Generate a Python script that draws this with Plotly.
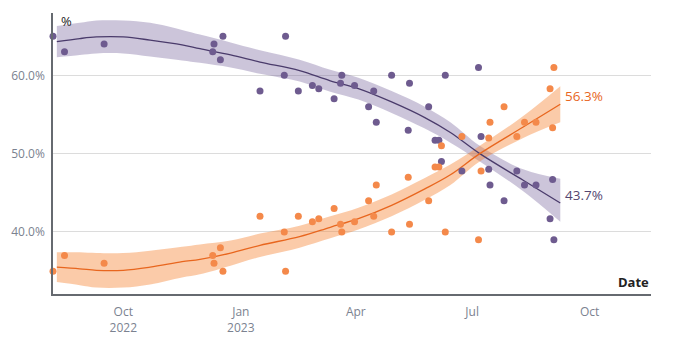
import plotly.graph_objects as go

# Poll results (share of respondents, %)
poll_dates = [
    "2022-08-07", "2022-08-16", "2022-09-16", "2022-12-10", "2022-12-11",
    "2022-12-16", "2022-12-18", "2023-01-16", "2023-02-04", "2023-02-05",
    "2023-02-15", "2023-02-26", "2023-03-03", "2023-03-15", "2023-03-20",
    "2023-03-21", "2023-03-31", "2023-04-11", "2023-04-15", "2023-04-17",
    "2023-04-29", "2023-05-12", "2023-05-13", "2023-05-28", "2023-06-02",
    "2023-06-05", "2023-06-07", "2023-06-10", "2023-06-23", "2023-07-06",
    "2023-07-08", "2023-07-14", "2023-07-15", "2023-07-26", "2023-08-05",
    "2023-08-11", "2023-08-20", "2023-08-31", "2023-09-02", "2023-09-03",
]
purple_polls = [
    65, 63, 64, 63, 64, 62, 65, 58, 60, 65,
    58, 58.7, 58.3, 57, 59, 60, 58.7, 56, 58, 54,
    60, 53, 59, 56, 51.7, 51.7, 49, 60, 47.8, 61,
    52.2, 48, 46, 44, 47.8, 46, 46, 41.7, 46.7, 39,
]
orange_polls = [
    35, 37, 36, 37, 36, 38, 35, 42, 40, 35,
    42, 41.3, 41.7, 43, 41, 40, 41.3, 44, 42, 46,
    40, 47, 41, 44, 48.3, 48.3, 51, 40, 52.2, 39,
    47.8, 52, 54, 56, 52.2, 54, 54, 58.3, 53.3, 61,
]

# Smoothed trend and its confidence band
trend_dates = [
    "2022-08-10", "2022-08-28", "2022-09-10", "2022-10-01", "2022-10-22",
    "2022-11-16", "2022-11-30", "2022-12-24", "2023-01-16", "2023-02-16",
    "2023-03-12", "2023-04-03", "2023-04-29", "2023-05-25", "2023-06-14",
    "2023-07-07", "2023-08-10", "2023-09-08",
]
purple_trend = [64.3, 64.7, 64.9, 64.9, 64.5, 63.9, 63.4, 62.6, 61.7, 60.6,
                59.3, 58.3, 56.6, 54.6, 52.7, 50.0, 46.6, 43.7]
purple_upper = [66.3, 66.7, 67.0, 67.0, 66.7, 65.8, 65.2, 64.2, 63.2, 62.0,
                60.7, 59.7, 58.0, 56.0, 54.0, 51.0, 48.0, 46.8]
purple_lower = [62.3, 62.6, 62.8, 62.8, 62.4, 61.9, 61.6, 61.0, 60.2, 59.2,
                57.9, 56.9, 55.2, 53.2, 51.4, 49.0, 45.2, 41.3]
orange_trend = [35.5, 35.3, 35.1, 35.1, 35.5, 36.2, 36.5, 37.3, 38.3, 39.4,
                40.6, 41.7, 43.4, 45.5, 47.3, 50.0, 53.4, 56.3]
orange_upper = [37.4, 37.4, 37.3, 37.3, 37.6, 38.1, 38.4, 38.9, 39.8, 40.8,
                42.0, 43.1, 44.8, 46.9, 48.6, 51.0, 54.8, 58.6]
orange_lower = [33.6, 33.2, 32.9, 32.9, 33.3, 34.2, 34.6, 35.7, 36.8, 38.0,
                39.2, 40.3, 42.0, 44.1, 46.0, 49.0, 52.0, 54.0]

tick_dates = ["2022-10-01", "2023-01-01", "2023-04-01", "2023-07-01", "2023-10-01"]
tick_text = ["Oct<br>2022", "Jan<br>2023", "Apr", "Jul", "Oct"]
y_ticks = [40, 50, 60]
y_text = ["40.0%", "50.0%", "60.0%"]

PURPLE_BAND = "rgba(110,90,150,0.35)"
ORANGE_BAND = "rgba(245,130,50,0.42)"
PURPLE_LINE = "#4a3b6b"
ORANGE_LINE = "#e8661e"
PURPLE_DOT = "#6e5b8f"
ORANGE_DOT = "#f4894a"

fig = go.Figure()

# confidence bands: lower edge, then upper edge filled down to it
for upper, lower, color in [(purple_upper, purple_lower, PURPLE_BAND),
                            (orange_upper, orange_lower, ORANGE_BAND)]:
    fig.add_trace(go.Scatter(
        x=trend_dates, y=lower, mode="lines",
        line=dict(width=0, shape="spline"),
        hoverinfo="skip", showlegend=False,
    ))
    fig.add_trace(go.Scatter(
        x=trend_dates, y=upper, mode="lines",
        line=dict(width=0, shape="spline"),
        fill="tonexty", fillcolor=color,
        hoverinfo="skip", showlegend=False,
    ))

# trend lines
fig.add_trace(go.Scatter(x=trend_dates, y=purple_trend, mode="lines",
                         line=dict(color=PURPLE_LINE, width=1.3, shape="spline"),
                         showlegend=False))
fig.add_trace(go.Scatter(x=trend_dates, y=orange_trend, mode="lines",
                         line=dict(color=ORANGE_LINE, width=1.3, shape="spline"),
                         showlegend=False))

# individual polls
fig.add_trace(go.Scatter(x=poll_dates, y=purple_polls, mode="markers",
                         marker=dict(color=PURPLE_DOT, size=7),
                         cliponaxis=False, showlegend=False))
fig.add_trace(go.Scatter(x=poll_dates, y=orange_polls, mode="markers",
                         marker=dict(color=ORANGE_DOT, size=7),
                         cliponaxis=False, showlegend=False))

# end-of-line value labels
fig.add_annotation(x=trend_dates[-1], y=orange_trend[-1], text=f"{orange_trend[-1]:.1f}%",
                   showarrow=False, xanchor="left", yanchor="middle", xshift=3, yshift=8,
                   font=dict(family="Open Sans", size=13.5, color=ORANGE_LINE))
fig.add_annotation(x=trend_dates[-1], y=purple_trend[-1], text=f"{purple_trend[-1]:.1f}%",
                   showarrow=False, xanchor="left", yanchor="middle", xshift=3, yshift=8,
                   font=dict(family="Open Sans", size=13.5, color="#54466f"))

# axis titles
fig.add_annotation(xref="paper", yref="paper", x=0.01, y=0.97, text="%",
                   showarrow=False, xanchor="left", yanchor="middle",
                   font=dict(family="Open Sans", size=13, color="#222222"))
fig.add_annotation(xref="paper", yref="paper", x=1.0, y=0.044, text="<b>Date</b>",
                   showarrow=False, xanchor="right", yanchor="middle",
                   font=dict(family="Open Sans", size=13, color="#222222"))

fig.update_layout(
    width=673, height=338,
    margin=dict(l=53, r=22, t=13, b=44),
    paper_bgcolor="white", plot_bgcolor="white",
    font=dict(family="Open Sans", size=12, color="#7b8290"),
    xaxis=dict(
        type="date", range=["2022-08-07", "2023-11-18"],
        tickvals=tick_dates, ticktext=tick_text,
        showgrid=False, zeroline=False, automargin=False,
        showline=True, linecolor="#666a70", linewidth=1.5,
        ticks="", ticklabelstandoff=6, tickfont=dict(size=12, color="#7b8290"),
    ),
    yaxis=dict(
        range=[32.08, 67.96],
        tickvals=y_ticks, ticktext=y_text, automargin=False,
        showgrid=True, gridcolor="#dcdcdc", gridwidth=1, zeroline=False,
        showline=True, linecolor="#666a70", linewidth=1.5,
        ticks="", ticklabelstandoff=4, tickfont=dict(size=12, color="#7b8290"),
    ),
)

fig.write_html("out.html")
